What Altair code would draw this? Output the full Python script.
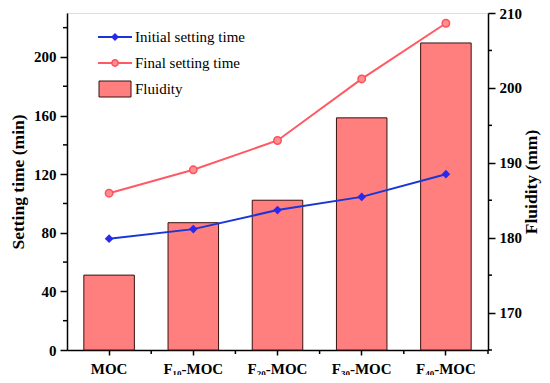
import altair as alt
import pandas as pd

categories = ["MOC", "F₁₀-MOC", "F₂₀-MOC", "F₃₀-MOC", "F₄₀-MOC"]
initial_setting = [76, 82.5, 95.5, 104.5, 120]
final_setting = [107, 123, 143, 185, 223]
fluidity = [175, 182, 185, 196, 206]

left_major = [0, 40, 80, 120, 160, 200]
left_minor = [20, 60, 100, 140, 180, 220]
right_major = [170, 180, 190, 200, 210]
right_minor = [165, 175, 185, 195, 205]

legend_labels = ["Initial setting time", "Final setting time", "Fluidity"]

W, H = 421, 337
TOP = 5
FONT = "Liberation Serif"
PAD_IN, PAD_OUT = 0.4, 0.2
STEP = W / (len(categories) - PAD_IN + 2 * PAD_OUT)

df = pd.DataFrame({"cat": categories, "init": initial_setting,
                   "final": final_setting, "flu": fluidity})

xscale = alt.Scale(domain=categories, paddingInner=PAD_IN, paddingOuter=PAD_OUT)
xaxis = alt.Axis(labelAngle=0, labelFont=FONT, labelFontSize=15,
                 labelFontWeight="bold", labelColor="black",
                 tickColor="black", tickSize=5, tickWidth=1.5,
                 domainColor="black", domainWidth=1.5, labelPadding=6)


def X(**kw):
    return alt.X("cat:N", scale=xscale, sort=categories, title=None, axis=xaxis, **kw)


lscale = alt.Scale(domain=[0, 230], nice=False, zero=False)
rscale = alt.Scale(domain=[165, 210], nice=False, zero=False)

axis_common = dict(labelFont=FONT, labelFontSize=15, labelFontWeight="bold",
                   labelColor="black", titleFont=FONT, titleFontSize=17.5,
                   titleFontWeight="bold", titleColor="black", tickColor="black",
                   tickSize=7, tickWidth=1.5, domainColor="black",
                   domainWidth=1.5, grid=False, labelPadding=4)

laxis = alt.Axis(orient="left", values=left_major, title="Setting time (min)",
                 titlePadding=6, **axis_common)
raxis = alt.Axis(orient="right", values=right_major, title="Fluidity (mm)",
                 titlePadding=10, titleAngle=270, titleBaseline="middle",
                 **axis_common)


def YL(field):
    return alt.Y(field, scale=lscale, axis=laxis)


def YR(field):
    return alt.Y(field, scale=rscale, axis=raxis)


# Left group: setting times
init_line = alt.Chart(df).mark_line(color="#1836d6", strokeWidth=2).encode(
    x=X(), y=YL("init:Q"))
init_pts = alt.Chart(df).mark_point(shape="diamond", filled=True, color="#2a28ee",
                                    size=75, opacity=1).encode(
    x=X(), y=YL("init:Q"))
final_line = alt.Chart(df).mark_line(color="#ff5a64", strokeWidth=2).encode(
    x=X(), y=YL("final:Q"))
final_pts = alt.Chart(df).mark_point(shape="circle", filled=True, fill="#ff8f8f",
                                     stroke="#ff4f5a", strokeWidth=1.5, size=55,
                                     opacity=1).encode(
    x=X(), y=YL("final:Q"))
lminor = alt.Chart(pd.DataFrame({"v": left_minor})).mark_rule(
    color="black", strokeWidth=1.5).encode(
    y=YL("v:Q"), x=alt.value(0), x2=alt.value(-4))

# x minor ticks between categories
xminor = alt.Chart(pd.DataFrame({"cat": categories})).mark_rule(
    color="black", strokeWidth=1.5, xOffset=STEP * PAD_IN / 2).encode(
    x=X(bandPosition=1),
    y=alt.value(H), y2=alt.value(H + 4))

left_group = alt.layer(final_line, init_line, xminor, lminor, final_pts, init_pts)

# Right group: fluidity bars
bars = alt.Chart(df).mark_bar(fill="#ff7f7f", stroke="#3a1010",
                              strokeWidth=1).encode(
    x=X(), y=YR("flu:Q"), y2=alt.datum(165))
rminor = alt.Chart(pd.DataFrame({"v": right_minor})).mark_rule(
    color="black", strokeWidth=1.5).encode(
    y=YR("v:Q"), x=alt.value(W), x2=alt.value(W + 4))

right_group = alt.layer(bars, rminor)

# Manual legend
leg_y = [24, 50, 76]
one = pd.DataFrame({"a": [0]})
leg_init_line = alt.Chart(one).mark_rule(
    color="#1836d6", strokeWidth=2).encode(
    x=alt.value(31), x2=alt.value(65), y=alt.value(leg_y[0]))
leg_init_pt = alt.Chart(one).mark_point(
    shape="diamond", filled=True, color="#2a28ee", size=65, opacity=1).encode(
    x=alt.value(48), y=alt.value(leg_y[0]))
leg_final_line = alt.Chart(one).mark_rule(
    color="#ff5a64", strokeWidth=2).encode(
    x=alt.value(31), x2=alt.value(65), y=alt.value(leg_y[1]))
leg_final_pt = alt.Chart(one).mark_point(
    shape="circle", filled=True, fill="#ff8f8f", stroke="#ff4f5a", strokeWidth=1.5,
    size=40, opacity=1).encode(x=alt.value(48), y=alt.value(leg_y[1]))
leg_rect = alt.Chart(one).mark_rect(
    fill="#ff7f7f", stroke="#3a1010", strokeWidth=1).encode(
    x=alt.value(32), x2=alt.value(64), y=alt.value(leg_y[2] - 8),
    y2=alt.value(leg_y[2] + 8))
leg_texts = [
    alt.Chart(pd.DataFrame({"label": [lab]})).mark_text(
        align="left", baseline="middle", font=FONT, fontSize=15, color="black").encode(
        x=alt.value(68), y=alt.value(yy), text="label:N")
    for lab, yy in zip(legend_labels, leg_y)
]

legend_group = alt.layer(leg_init_line, leg_init_pt, leg_final_line, leg_final_pt,
                         leg_rect, *leg_texts)

chart = alt.layer(right_group, left_group, legend_group).resolve_scale(
    y="independent").properties(
    width=W, height=H,
    autosize=alt.AutoSizeParams(type="none"),
    padding={"left": 59, "top": TOP, "right": 54, "bottom": 367 - TOP - H},
).configure_view(stroke="black", strokeWidth=1.5).configure(background="white")

chart.save("out.html", embed_options={"renderer": "svg", "actions": False})
